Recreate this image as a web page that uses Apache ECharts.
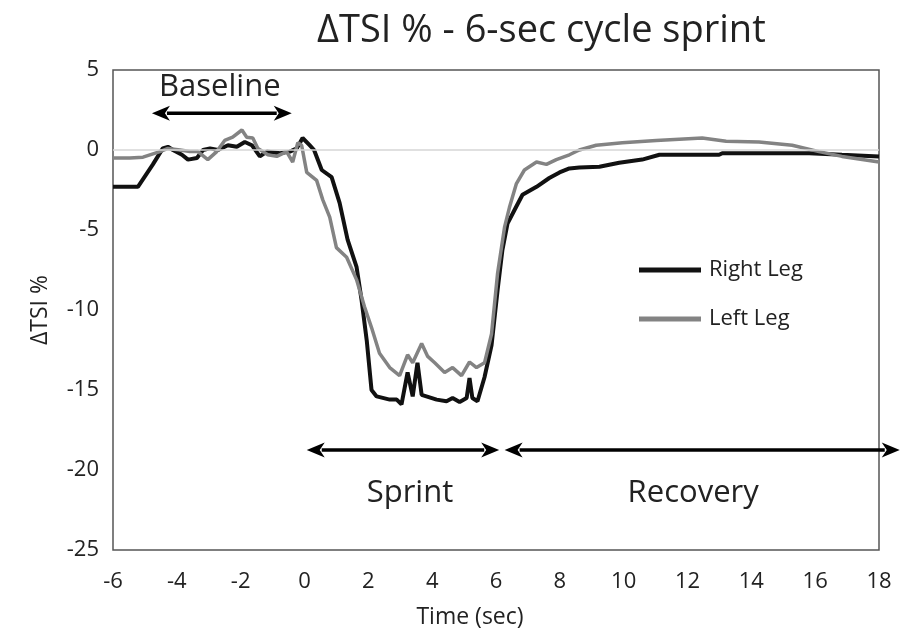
<!DOCTYPE html>
<html>
<head>
<meta charset="utf-8">
<script src="https://cdn.jsdelivr.net/npm/echarts@6/dist/echarts.min.js"></script>
<style>html,body{margin:0;padding:0;background:#fff}#chart{width:902px;height:634px}</style>
</head>
<body>
<div id="chart"></div>
<script>
const titleText = 'ΔTSI % - 6-sec cycle sprint';
const xTicks = { min: -6, max: 18, interval: 2 };
const yTicks = { min: -25, max: 5, interval: 5 };

const rightLegTime = [-6, -5.22, -4.75, -4.44, -4.28, -4.12, -3.84, -3.65, -3.37, -3.18, -2.96, -2.71, -2.40, -2.12, -1.87, -1.65, -1.40, -1.18, -0.77, -0.46, -0.24, -0.06, 0.16, 0.30, 0.54, 0.85, 1.10, 1.35, 1.63, 1.79, 1.95, 2.10, 2.26, 2.67, 2.89, 3.04, 3.23, 3.39, 3.54, 3.67, 4.14, 4.45, 4.64, 4.86, 5.08, 5.17, 5.26, 5.42, 5.64, 5.86, 6.05, 6.20, 6.36, 6.58, 6.83, 7.27, 7.67, 7.99, 8.30, 8.61, 9.24, 9.86, 10.58, 11.12, 12.99, 13.09, 15.81, 16.84, 18.0];
const rightLegTSI  = [-2.3, -2.3, -0.9, 0.1, 0.2, 0, -0.3, -0.6, -0.5, 0, 0.1, 0, 0.3, 0.2, 0.5, 0.3, -0.4, -0.1, -0.2, -0.1, 0.1, 0.75, 0.3, 0.0, -1.25, -1.7, -3.3, -5.6, -7.3, -9.4, -11.9, -15.0, -15.4, -15.6, -15.6, -15.9, -13.9, -15.4, -13.3, -15.3, -15.6, -15.7, -15.5, -15.75, -15.5, -14.25, -15.5, -15.7, -14.2, -12.2, -8.75, -6.25, -4.6, -3.75, -2.8, -2.3, -1.75, -1.4, -1.15, -1.1, -1.05, -0.8, -0.6, -0.3, -0.3, -0.2, -0.2, -0.3, -0.4];

const leftLegTime = [-6, -5.47, -5.06, -4.53, -4.28, -3.9, -3.59, -3.34, -3.03, -2.75, -2.5, -2.25, -1.96, -1.81, -1.62, -1.46, -1.15, -0.87, -0.56, -0.37, -0.21, -0.09, 0.07, 0.38, 0.57, 0.79, 1.0, 1.32, 1.63, 1.88, 2.1, 2.35, 2.67, 2.98, 3.23, 3.39, 3.67, 3.86, 4.08, 4.39, 4.64, 4.92, 5.17, 5.39, 5.64, 5.86, 6.05, 6.27, 6.42, 6.64, 6.89, 7.27, 7.58, 7.89, 8.3, 8.61, 9.14, 9.96, 11.02, 12.46, 13.21, 14.24, 15.28, 16.12, 16.84, 18.0];
const leftLegTSI  = [-0.5, -0.5, -0.45, -0.1, 0.1, 0, -0.1, -0.1, -0.6, -0.1, 0.6, 0.8, 1.25, 0.8, 0.75, 0.1, -0.3, -0.4, -0.1, -0.75, 0.45, 0.3, -1.4, -1.9, -3.1, -4.2, -6.1, -6.7, -8.1, -9.8, -11.1, -12.7, -13.6, -14.1, -12.8, -13.3, -12.1, -12.9, -13.3, -13.9, -13.6, -14.1, -13.25, -13.6, -13.3, -11.5, -7.7, -4.8, -3.6, -2.1, -1.25, -0.75, -0.9, -0.6, -0.3, 0, 0.3, 0.45, 0.6, 0.75, 0.55, 0.5, 0.3, -0.1, -0.4, -0.75];

const phaseNames = ['Baseline', 'Sprint', 'Recovery'];
const phaseStart = [-4.78, 0.07, 6.27];
const phaseEnd   = [-0.4, 6.1, 18.65];
const phaseLevel = [2.3, -18.75, -18.75];

const zip = (xs, ys) => xs.map((x, i) => [x, ys[i]]);
const FONT = '"Open Sans", "Noto Sans", sans-serif';
const TXT = '#222';

const chart = echarts.init(document.getElementById('chart'), null, { renderer: 'canvas' });
chart.setOption({
  animation: false,
  backgroundColor: '#fff',
  title: { text: titleText, left: 312, top: 7,
           textStyle: { fontFamily: FONT, fontSize: 38, fontWeight: 'normal', color: TXT } },
  legend: {
    orient: 'vertical', left: 634, top: 254, itemWidth: 62, itemHeight: 5, itemGap: 27,
    icon: 'rect', textStyle: { fontFamily: FONT, fontSize: 22, color: TXT, padding: [0, 0, 0, 3] },
    data: ['Right Leg', 'Left Leg']
  },
  grid: { left: 113, right: 23, top: 70, bottom: 84, show: true, borderColor: '#555', borderWidth: 1.5, backgroundColor: 'transparent' },
  xAxis: {
    type: 'value', min: xTicks.min, max: xTicks.max, interval: xTicks.interval,
    name: 'Time (sec)', nameLocation: 'middle', nameGap: 56,
    nameTextStyle: { fontFamily: FONT, fontSize: 23, color: TXT, padding: [0, 52, 0, 0] },
    axisLine: { show: false }, axisTick: { show: false }, splitLine: { show: false },
    axisLabel: { margin: 21, fontFamily: FONT, fontSize: 22, color: TXT }
  },
  yAxis: {
    type: 'value', min: yTicks.min, max: yTicks.max, interval: yTicks.interval,
    name: 'ΔTSI %', nameLocation: 'middle', nameGap: 61, nameRotate: 90,
    nameTextStyle: { fontFamily: FONT, fontSize: 23, color: TXT },
    axisLine: { show: false }, axisTick: { show: false }, splitLine: { show: false },
    axisLabel: { margin: 14, fontFamily: FONT, fontSize: 22, color: TXT }
  },
  series: [
    {
      name: 'Right Leg', type: 'line', data: zip(rightLegTime, rightLegTSI),
      showSymbol: false, symbol: 'none', z: 3,
      lineStyle: { color: '#111', width: 4 }, itemStyle: { color: '#111' },
      emphasis: { disabled: true },
      markLine: {
        silent: true, symbol: 'none', animation: false, label: { show: false },
        lineStyle: { color: '#d6d6d6', width: 1.5, type: 'solid' },
        data: [{ yAxis: 0 }]
      }
    },
    {
      name: 'Left Leg', type: 'line', data: zip(leftLegTime, leftLegTSI),
      showSymbol: false, symbol: 'none', z: 4,
      lineStyle: { color: '#838383', width: 3.5 }, itemStyle: { color: '#838383' },
      emphasis: { disabled: true }
    }
  ]
});

// Phase arrows + labels, positioned via the chart's own coordinate conversion
const graphics = [];
phaseNames.forEach((name, i) => {
  const a = chart.convertToPixel({ gridIndex: 0 }, [phaseStart[i], phaseLevel[i]]);
  const b = chart.convertToPixel({ gridIndex: 0 }, [phaseEnd[i], phaseLevel[i]]);
  const y = a[1], x1 = a[0], x2 = b[0];
  const hl = 18, hw = 7.5;
  graphics.push({ type: 'line', silent: true, z: 10,
    shape: { x1: x1 + hl - 3, y1: y, x2: x2 - hl + 3, y2: y },
    style: { stroke: '#000', lineWidth: 3.5 } });
  graphics.push({ type: 'polygon', silent: true, z: 10,
    shape: { points: [[x1, y], [x1 + hl, y - hw], [x1 + hl - 5, y], [x1 + hl, y + hw]] },
    style: { fill: '#000' } });
  graphics.push({ type: 'polygon', silent: true, z: 10,
    shape: { points: [[x2, y], [x2 - hl, y - hw], [x2 - hl + 5, y], [x2 - hl, y + hw]] },
    style: { fill: '#000' } });
  const mid = (x1 + Math.min(x2, 900)) / 2;
  graphics.push({ type: 'text', silent: true, z: 10,
    style: { text: name, x: i === 1 ? mid + 7 : (i === 2 ? mid - 9 : mid - 2), y: i === 0 ? y - 26 : y + 43,
             align: 'center', verticalAlign: 'middle',
             font: '31px "Open Sans", "Noto Sans", sans-serif', fill: TXT } });
});
chart.setOption({ graphic: graphics });
</script>
</body>
</html>
